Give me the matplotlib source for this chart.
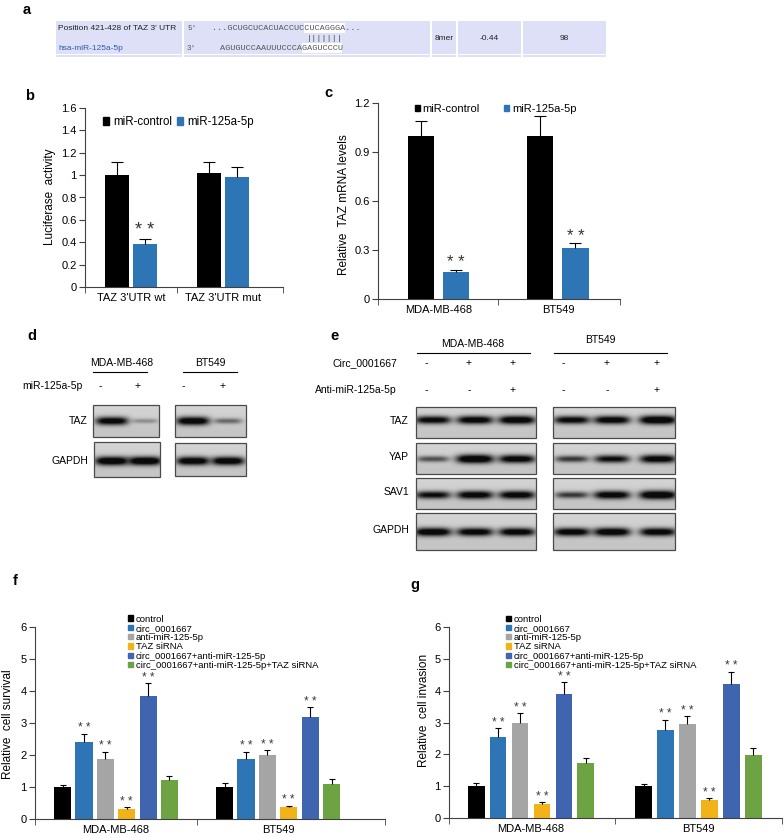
import numpy as np
import matplotlib
matplotlib.use('Agg')
from matplotlib import pyplot as plt
from matplotlib.patches import Rectangle

plt.rcParams['font.family'] = ['Liberation Sans', 'DejaVu Sans']

W, H = 784, 838

# ---------------- data ----------------
# panel b: luciferase activity
b_groups = ["TAZ 3'UTR wt", "TAZ 3'UTR mut"]
b_ctrl = [1.0, 1.02]
b_ctrl_err = [0.12, 0.10]
b_mir = [0.385, 0.98]
b_mir_err = [0.045, 0.09]
b_stars = [True, False]

# panel c: relative TAZ mRNA
c_groups = ['MDA-MB-468', 'BT549']
c_ctrl = [1.0, 1.0]
c_ctrl_err = [0.09, 0.12]
c_mir = [0.165, 0.31]
c_mir_err = [0.015, 0.03]

# panels f/g
fg_groups = ['MDA-MB-468', 'BT549']
fg_labels = ['control', 'circ_0001667', 'anti-miR-125-5p', 'TAZ siRNA',
             'circ_0001667+anti-miR-125-5p', 'circ_0001667+anti-miR-125-5p+TAZ siRNA']
fg_colors = ['#000000', '#2e75b6', '#a5a5a5', '#f2b318', '#3f64b0', '#6ea343']
f_vals = [[1.0, 1.0], [2.4, 1.88], [1.88, 2.0], [0.3, 0.36], [3.85, 3.2], [1.22, 1.1]]
f_errs = [[0.07, 0.13], [0.27, 0.22], [0.22, 0.15], [0.06, 0.06], [0.4, 0.3], [0.13, 0.14]]
g_vals = [[1.0, 1.0], [2.55, 2.77], [3.0, 2.95], [0.45, 0.56], [3.88, 4.2], [1.72, 1.97]]
g_errs = [[0.1, 0.08], [0.27, 0.32], [0.3, 0.25], [0.05, 0.06], [0.38, 0.4], [0.15, 0.24]]
fg_stars = [False, True, True, True, True, False]

# western blot band darkness (0..1), read by eye
d_taz = [0.9, 0.25, 0.95, 0.4]
d_gapdh = [1.0, 1.0, 0.95, 0.95]
e_rows = ['TAZ', 'YAP', 'SAV1', 'GAPDH']
e_mda = [[0.85, 0.9, 0.95], [0.5, 1.0, 0.9], [0.8, 0.9, 0.9], [0.95, 0.9, 0.9]]
e_bt = [[0.85, 0.9, 1.0], [0.6, 0.8, 0.9], [0.6, 0.9, 1.0], [0.9, 0.95, 0.9]]
e_circ = ['-', '+', '+', '-', '+', '+']
e_anti = ['-', '-', '+', '-', '-', '+']

fig = plt.figure(figsize=(W / 100, H / 100), dpi=100)

# overlay in pixel coordinates
ov = fig.add_axes([0, 0, 1, 1], zorder=0)
ov.set_axis_off()


def px_axes(l, t, r, b):
    return fig.add_axes([l / W, 1 - b / H, (r - l) / W, (b - t) / H])


# ---------------- panel letters ----------------
for lt, x, y in [('a', 27, 10), ('b', 30, 96), ('c', 328, 93), ('d', 32, 336),
                 ('e', 335, 336), ('f', 15, 581), ('g', 415, 585)]:
    ov.text(x, y, lt, fontsize=10.5, fontweight='bold', ha='center', va='center')

# ---------------- panel a: table ----------------
lav = '#dde0f6'
ov.add_patch(Rectangle((56, 21), 550, 33, facecolor=lav, edgecolor='none'))
ov.add_patch(Rectangle((56, 55.5), 550, 2, facecolor=lav, edgecolor='none'))
for xs in [183, 431, 457, 522]:
    ov.plot([xs, xs], [21, 58], color='white', lw=1.5)
ov.text(58, 28, "Position 421-428 of TAZ 3' UTR", fontsize=6, va='center', color='#222222')
ov.text(58, 48, 'hsa-miR-125a-5p', fontsize=6, va='center', color='#2a5db0')
ov.text(187, 28, "5'", fontsize=5.5, va='center', color='#555555', family='Liberation Mono')
ov.text(187, 48, "3'", fontsize=5.5, va='center', color='#555555', family='Liberation Mono')
cw = 5.1
seq_top = '...GCUGCUCACUACCUCCUCAGGGA...'
seq_bot = 'AGUGUCCAAUUUCCCAGAGUCCCU'
ov.add_patch(Rectangle((212 + 18 * cw, 23), 8 * cw, 10, facecolor='white', edgecolor='none'))
ov.add_patch(Rectangle((220 + 16 * cw, 43), 8 * cw, 10, facecolor='white', edgecolor='none'))
ov.text(212, 28, seq_top, fontsize=6.1, va='center', color='#555555', family='Liberation Mono')
ov.text(220, 48, seq_bot, fontsize=6.1, va='center', color='#555555', family='Liberation Mono')
ov.text(307, 38, '|||||||', fontsize=6.1, va='center', color='#555555', family='Liberation Mono')
ov.text(444, 39, '8mer', fontsize=6, ha='center', va='center', color='#222222')
ov.text(489, 39, '-0.44', fontsize=6, ha='center', va='center', color='#222222')
ov.text(564, 39, '98', fontsize=6, ha='center', va='center', color='#222222')


# ---------------- bar chart helper ----------------
def style_axes(ax, xlim, ylim, yticks, ylabels, groups, xfs=8):
    ax.set_xlim(*xlim)
    ax.set_ylim(*ylim)
    for s in ['top', 'right']:
        ax.spines[s].set_visible(False)
    for s in ['left', 'bottom']:
        ax.spines[s].set_color('#404040')
        ax.spines[s].set_linewidth(0.8)
    ax.set_yticks(yticks)
    ax.set_yticklabels(ylabels, fontsize=8)
    ax.set_xticks(range(len(groups)))
    ax.set_xticklabels(groups, fontsize=xfs)
    ax.set_xticks([xlim[0], 0.5, xlim[1]], minor=True)
    ax.tick_params(axis='x', which='major', length=0, pad=4)
    ax.tick_params(axis='x', which='minor', length=4, direction='out', color='#404040')
    ax.tick_params(axis='y', length=4, direction='out', color='#404040', pad=2)
    ax.patch.set_alpha(0)


def draw_series(ax, vals, errs, off, width, color, capsize):
    x = np.arange(len(vals)) + off
    ax.bar(x, vals, width, color=color, zorder=2)
    eb = ax.errorbar(x, vals, yerr=[np.zeros(len(vals)), errs], fmt='none',
                     ecolor='black', elinewidth=0.8, capsize=capsize, capthick=0.8, zorder=3)
    eb[1][0].set_visible(False)
    return x


# ---------------- panel b ----------------
axb = px_axes(85, 108, 283, 287)
xc = draw_series(axb, b_ctrl, b_ctrl_err, -0.15, 0.26, 'black', 4)
xm = draw_series(axb, b_mir, b_mir_err, 0.15, 0.26, '#2e75b6', 4)
for i, st in enumerate(b_stars):
    if st:
        axb.text(xm[i], b_mir[i] + b_mir_err[i] + 0.0, '* *', fontsize=13,
                 ha='center', va='bottom', color='#333333')
style_axes(axb, (-0.5, 1.65), (0, 1.6), np.arange(0, 1.61, 0.2),
           ['0', '0.2', '0.4', '0.6', '0.8', '1', '1.2', '1.4', '1.6'], b_groups)
hb = [Rectangle((0, 0), 1, 1, color='black'), Rectangle((0, 0), 1, 1, color='#2e75b6')]
axb.legend(hb, ['miR-control', 'miR-125a-5p'], ncol=2, loc='upper center',
           bbox_to_anchor=(0.47, 1.0), frameon=False, fontsize=8.3, handlelength=0.6,
           handleheight=0.6, handletextpad=0.3, columnspacing=0.4, borderaxespad=0.3)
ov.text(50, 197, 'Luciferase  activity', fontsize=8.5, rotation=90, ha='center', va='center')

# ---------------- panel c ----------------
axc = px_axes(378, 103, 620, 299)
xc = draw_series(axc, c_ctrl, c_ctrl_err, -0.147, 0.22, 'black', 4)
xm = draw_series(axc, c_mir, c_mir_err, 0.147, 0.22, '#2e75b6', 4)
for i in range(2):
    axc.text(xm[i], c_mir[i] + c_mir_err[i] - 0.005, '* *', fontsize=12,
             ha='center', va='bottom', color='#333333')
style_axes(axc, (-0.506, 1.52), (0, 1.2), [0, 0.3, 0.6, 0.9, 1.2],
           ['0', '0.3', '0.6', '0.9', '1.2'], c_groups)
axc.legend(hb, ['miR-control', 'miR-125a-5p'], ncol=2, loc='upper center',
           bbox_to_anchor=(0.486, 1.035), frameon=False, fontsize=8, handlelength=0.45,
           handleheight=0.45, handletextpad=0.25, columnspacing=2.2, borderaxespad=0.3)
ov.text(344, 205, 'Relative  TAZ mRNA levels', fontsize=8.5, rotation=90, ha='center', va='center')


# ---------------- panels f, g ----------------
def fg_panel(ax, vals, errs, xlim, leg_x, step, width):
    n = len(vals)
    for i in range(n):
        off = (i - (n - 1) / 2) * step
        x = draw_series(ax, vals[i], errs[i], off, width, fg_colors[i], 2.5)
        if fg_stars[i]:
            for j in range(len(x)):
                ax.text(x[j], vals[i][j] + errs[i][j] - 0.02, '* *', fontsize=8.5,
                        ha='center', va='bottom', color='#3a3a3a')
    style_axes(ax, xlim, (0, 6), range(7), [str(v) for v in range(7)], fg_groups)
    hh = [Rectangle((0, 0), 1, 1, color=c) for c in fg_colors]
    ax.legend(hh, fg_labels, loc='upper left', bbox_to_anchor=(leg_x, 1.065), frameon=False,
              fontsize=6.8, handlelength=0.5, handleheight=0.5, handletextpad=0.3,
              labelspacing=0.03, borderaxespad=0.0, borderpad=0.0)


axf = px_axes(35, 627, 385, 819)
fg_panel(axf, f_vals, f_errs, (-0.5, 1.66), 0.266, 0.132, 0.106)
ov.text(8, 724, 'Relative  cell survival', fontsize=8.5, rotation=90, ha='center', va='center')

axg = px_axes(449, 627, 782, 818)
fg_panel(axg, g_vals, g_errs, (-0.49, 1.5), 0.172, 0.131, 0.10)
ov.text(424, 710, 'Relative  cell invasion', fontsize=8.5, rotation=90, ha='center', va='center')


# ---------------- western blots ----------------
def blot(x0, x1, y0, y1, lanes, yc, dark, bw=15.0):
    nx, ny = int(x1 - x0), int(y1 - y0)
    xx, yy = np.meshgrid(np.arange(nx) + x0 + 0.5, np.arange(ny) + y0 + 0.5)
    bg = 0.80 + 0.03 * np.cos((yy - y0) / ny * np.pi)
    img = bg.copy()
    for lx, d in zip(lanes, dark):
        sx = bw * (0.75 + 0.3 * d)
        sy = 1.8 + 2.6 * d
        prof = d * np.exp(-np.abs((xx - lx) / sx) ** 4) * np.exp(-((yy - yc) / sy) ** 2)
        img = img - (img - 0.04) * np.clip(prof * 1.3, 0, 1)
    ov.imshow(img, cmap='gray', vmin=0, vmax=1, extent=[x0, x1, y1, y0],
              aspect='auto', interpolation='bilinear', zorder=1)
    ov.add_patch(Rectangle((x0, y0), x1 - x0, y1 - y0, facecolor='none',
                           edgecolor='#4a4a4a', lw=0.9, zorder=2))


# panel d
ov.text(122, 363, 'MDA-MB-468', fontsize=7.5, ha='center', va='center')
ov.plot([93, 147], [372, 372], color='black', lw=0.8)
ov.text(210, 363, 'BT549', fontsize=7.5, ha='center', va='center')
ov.plot([183, 237], [372, 372], color='black', lw=0.8)
ov.text(83, 386, 'miR-125a-5p', fontsize=7.5, ha='right', va='center')
for xs, sg in zip([100, 138, 183, 223], ['-', '+', '-', '+']):
    ov.text(xs, 386, sg, fontsize=7.5, ha='center', va='center')
ov.text(88, 421, 'TAZ', fontsize=7.5, ha='right', va='center')
ov.text(88, 461, 'GAPDH', fontsize=7.5, ha='right', va='center')
blot(93, 159, 405, 437, [112, 145], 421, d_taz[:2], bw=16)
blot(175, 246, 405, 437, [193, 228], 421, d_taz[2:], bw=16)
blot(94, 160, 442, 477, [112, 145], 461, d_gapdh[:2], bw=16)
blot(175, 246, 443, 476, [193, 228], 461, d_gapdh[2:], bw=16)

# panel e
ov.text(473, 344, 'MDA-MB-468', fontsize=7.5, ha='center', va='center')
ov.plot([417, 530], [353, 353], color='black', lw=0.8)
ov.text(600, 340, 'BT549', fontsize=7.5, ha='center', va='center')
ov.plot([554, 667], [353, 353], color='black', lw=0.8)
ov.text(397, 363, 'Circ_0001667', fontsize=7.5, ha='right', va='center')
ov.text(397, 390, 'Anti-miR-125a-5p', fontsize=7.5, ha='right', va='center')
sign_x = [426, 469, 513, 563, 607, 657]
for xs, s1, s2 in zip(sign_x, e_circ, e_anti):
    ov.text(xs, 363, s1, fontsize=7.5, ha='center', va='center')
    ov.text(xs, 390, s2, fontsize=7.5, ha='center', va='center')
row_box = [(407, 438), (443, 474), (478, 509), (513, 550)]
row_c = [420, 459, 495, 532]
for k, name in enumerate(e_rows):
    t, b = row_box[k]
    ov.text(409, (t + b) / 2 - 2, name, fontsize=7.5, ha='right', va='center')
    blot(416, 536, t, b, [433, 475, 517], row_c[k], e_mda[k], bw=18)
    blot(553, 675, t, b, [572, 612, 658], row_c[k], e_bt[k], bw=18)

ov.set_xlim(0, W)
ov.set_ylim(H, 0)

fig.savefig('out.png', dpi=100)
